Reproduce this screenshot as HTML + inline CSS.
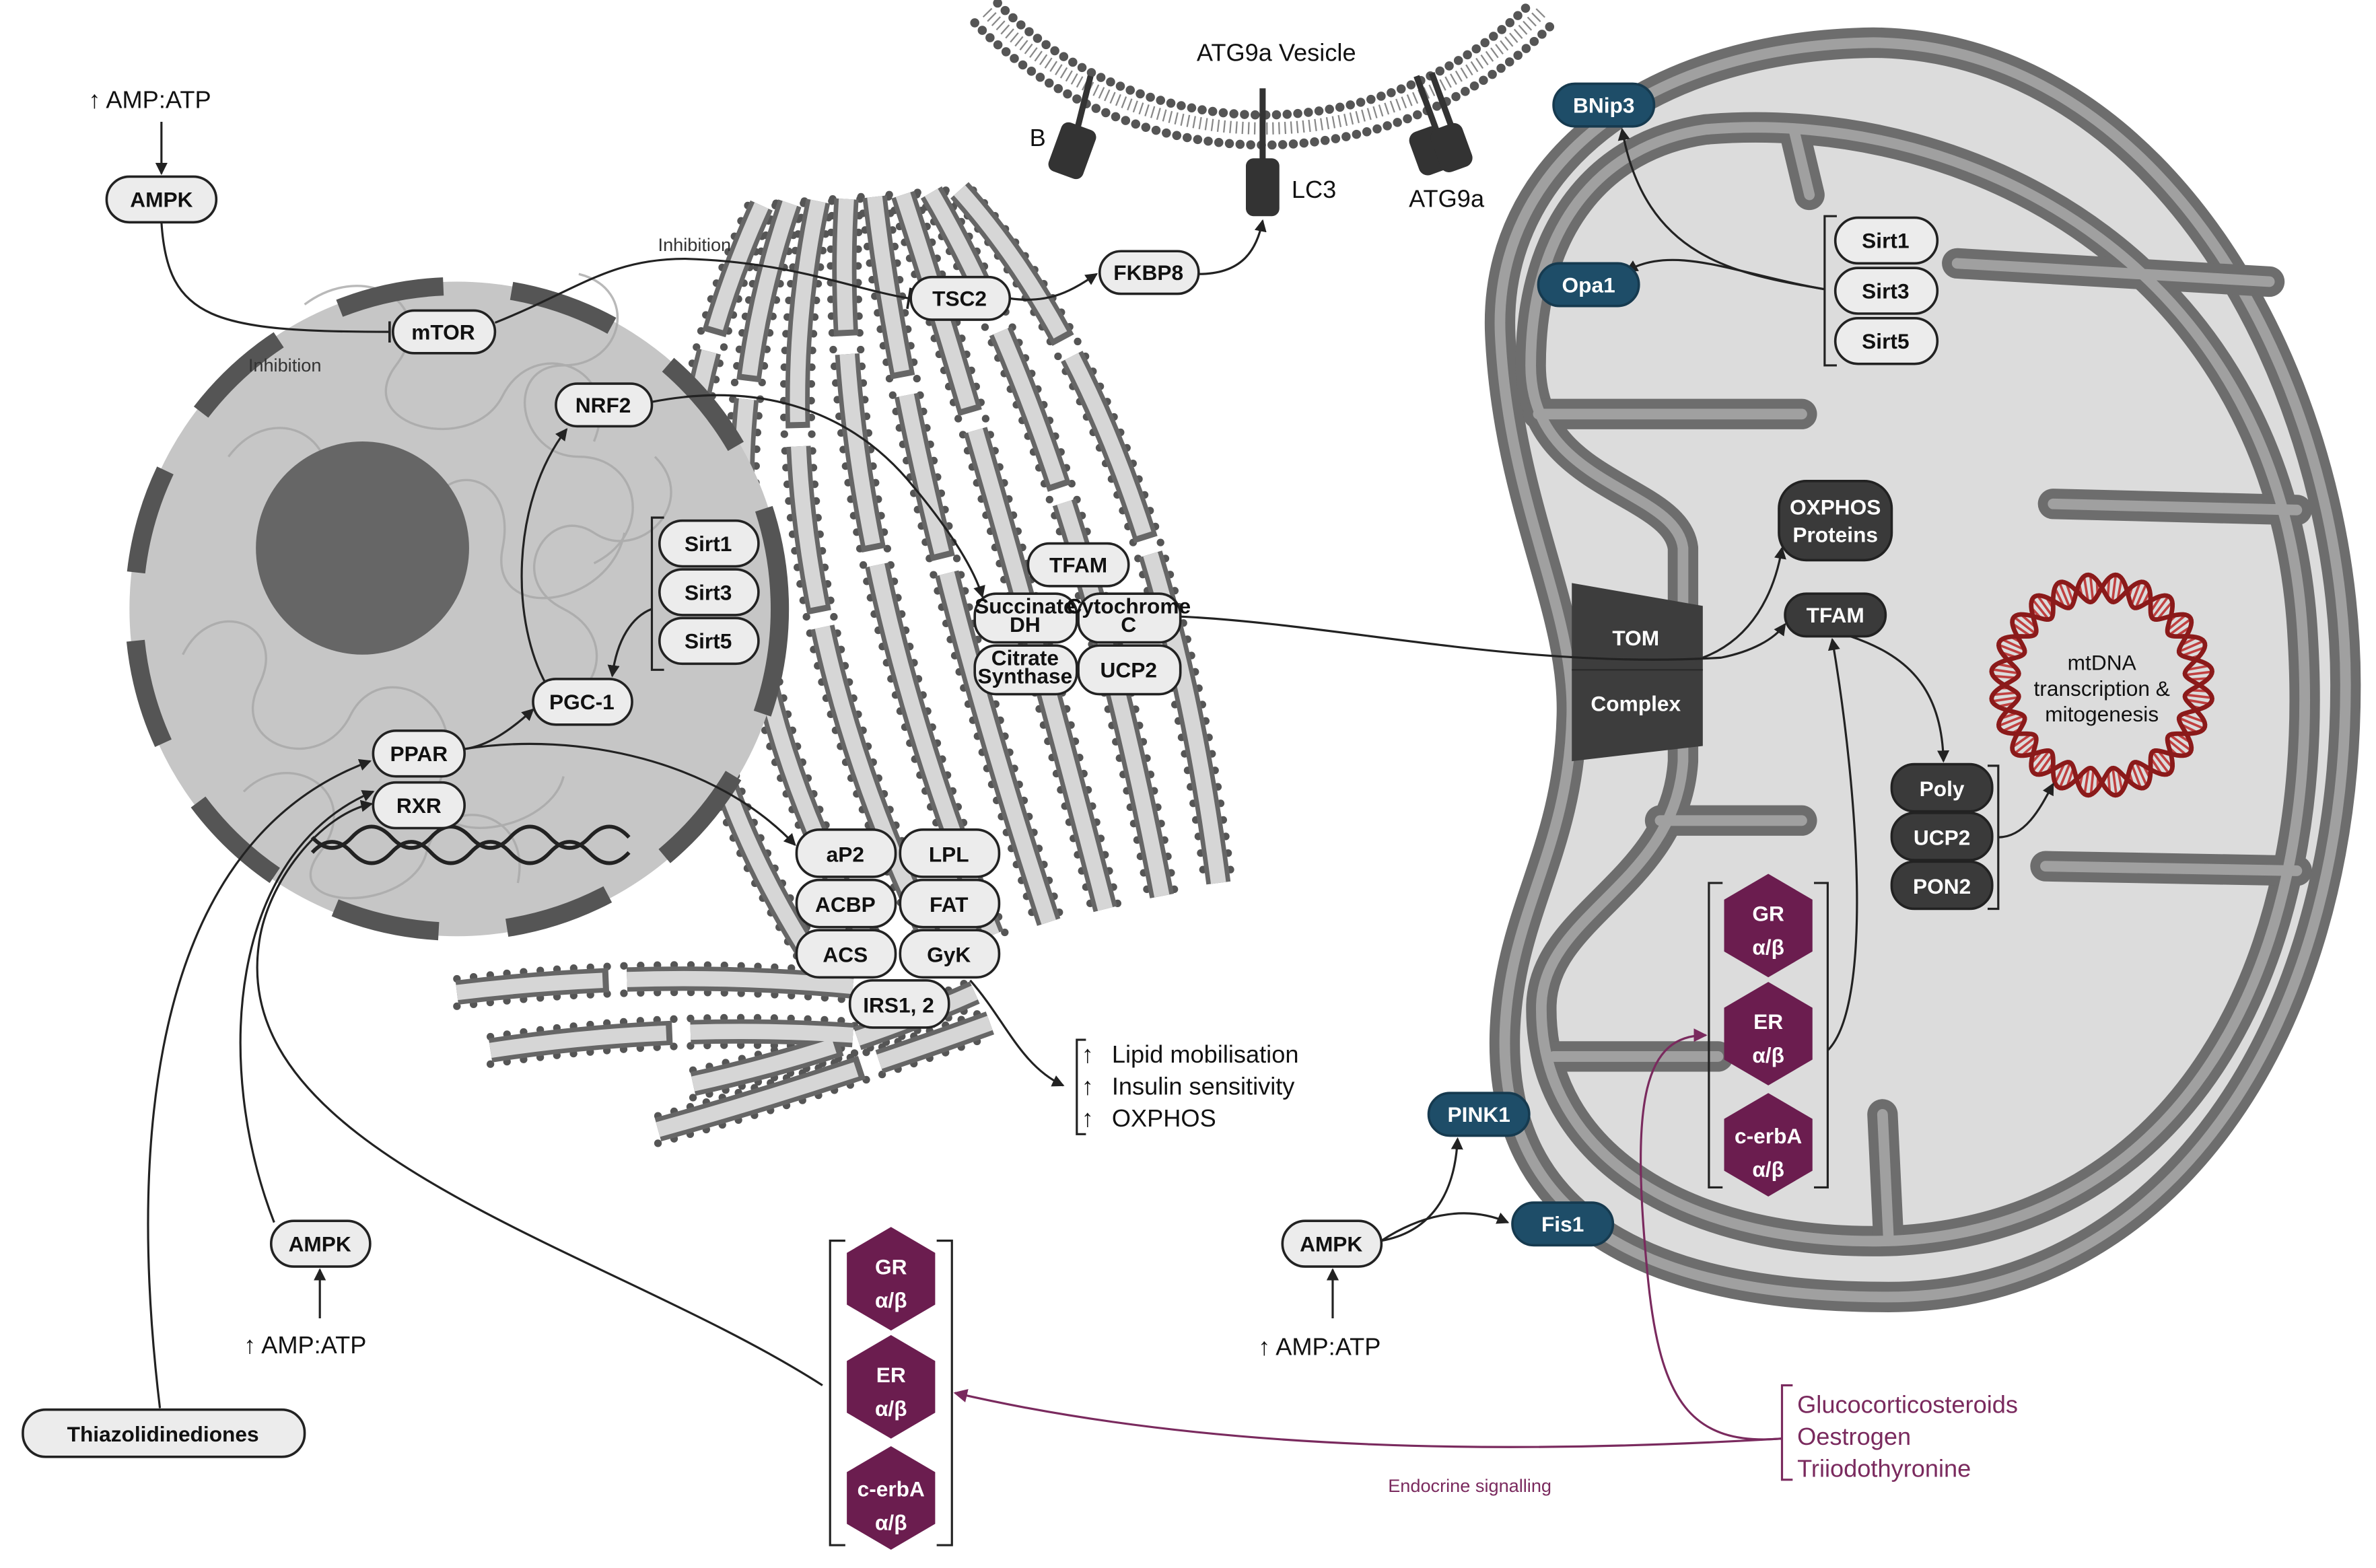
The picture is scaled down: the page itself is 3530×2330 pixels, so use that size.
<!DOCTYPE html>
<html><head><meta charset="utf-8"><style>
html,body{margin:0;padding:0;background:#fff}
svg{display:block}
text{font-family:"Liberation Sans",Arial,sans-serif}
.p{fill:#ececec;stroke:#222;stroke-width:1.6}
.d{fill:#3a3a3a;stroke:#222;stroke-width:1.6}
.b{fill:#1e4d68;stroke:#163a4f;stroke-width:1.6}
.t{font-size:14px;font-weight:bold;fill:#111;text-anchor:middle}
.tw{font-size:14px;font-weight:bold;fill:#fff;text-anchor:middle}
.ln{fill:none;stroke:#222;stroke-width:1.4}
.pl{fill:none;stroke:#7a2a5e;stroke-width:1.4}
.er1{fill:none;stroke:#666;stroke-width:16}
.er2{fill:none;stroke:#d6d6d6;stroke-width:10}
.erd{fill:none;stroke:#555;stroke-width:5;stroke-linecap:round;stroke-dasharray:0 11}
.m1{fill:none;stroke:#6d6d6d;stroke-width:20;stroke-linecap:round;stroke-linejoin:round}
.m2{fill:none;stroke:#a0a0a0;stroke-width:7;stroke-linecap:round;stroke-linejoin:round}
</style></head><body>
<svg width="3530" height="2330" viewBox="0 0 1560 1030" preserveAspectRatio="none" xmlns="http://www.w3.org/2000/svg">
<defs>
<marker id="a" markerWidth="8" markerHeight="8" refX="7" refY="4" orient="auto" markerUnits="userSpaceOnUse"><path d="M0,0 L8,4 L0,8 Z" fill="#222"/></marker>
<marker id="ap" markerWidth="9" markerHeight="9" refX="8" refY="4.5" orient="auto" markerUnits="userSpaceOnUse"><path d="M0,0 L9,4.5 L0,9 Z" fill="#7a2a5e"/></marker>
<marker id="tb" markerWidth="4" markerHeight="14" refX="2" refY="7" orient="auto" markerUnits="userSpaceOnUse"><rect x="1" y="0" width="1.6" height="14" fill="#222"/></marker>
</defs>

<!-- ATG9a vesicle -->
<path d="M640,15 A265,265 0 0 0 1020,15" fill="none" stroke="#555" stroke-width="6" stroke-dasharray="0 7" stroke-linecap="round"/>
<path d="M648,8 A255,255 0 0 0 1012,8" fill="none" stroke="#888" stroke-width="8" stroke-dasharray="1 3"/>
<path d="M655,2 A245,245 0 0 0 1005,2" fill="none" stroke="#555" stroke-width="6" stroke-dasharray="0 7" stroke-linecap="round"/>
<text x="838" y="40" font-size="16" text-anchor="middle" fill="#111">ATG9a Vesicle</text>
<line x1="716" y1="50" x2="706" y2="90" stroke="#333" stroke-width="4"/>
<rect x="692" y="82" width="24" height="34" rx="5" fill="#333" transform="rotate(20 704 99)"/>
<text x="676" y="96" font-size="16" fill="#111">B</text>
<line x1="829" y1="58" x2="829" y2="108" stroke="#333" stroke-width="4"/>
<rect x="818" y="104" width="22" height="38" rx="5" fill="#333"/>
<text x="848" y="130" font-size="16" fill="#111">LC3</text>
<line x1="930" y1="50" x2="944" y2="88" stroke="#333" stroke-width="4"/>
<line x1="940" y1="48" x2="954" y2="86" stroke="#333" stroke-width="4"/>
<rect x="928" y="84" width="22" height="30" rx="6" fill="#333" transform="rotate(-20 939 99)"/>
<rect x="942" y="82" width="22" height="30" rx="6" fill="#333" transform="rotate(-20 953 97)"/>
<text x="925" y="136" font-size="16" fill="#111">ATG9a</text>

<!-- ER -->
<g id="er"></g>

<!-- nucleus -->
<circle cx="300" cy="400" r="215" fill="#c6c6c6"/>
<g fill="none" stroke="#a8a8a8" stroke-width="1.5" opacity="0.8">
<path d="M150,300 c30,-40 80,-10 60,30 c-20,40 60,50 70,10 c10,-40 60,-30 50,20 c-10,50 70,40 80,-10"/>
<path d="M120,430 c20,-40 70,-20 50,20 c-20,40 40,60 60,20 c20,-40 80,-10 60,40 c-20,50 70,40 80,0"/>
<path d="M200,200 c40,-30 90,0 60,40 c-30,40 50,60 70,20 c20,-40 80,-20 60,30"/>
<path d="M160,520 c30,-30 80,0 50,40 c-30,40 60,40 70,0 c10,-40 70,-30 60,20"/>
<path d="M380,180 c40,10 30,60 -10,60 c-40,0 -30,60 10,60 c40,0 50,50 10,70"/>
<path d="M430,300 c30,30 -10,70 -40,50 c-30,-20 -60,30 -20,50 c40,20 20,70 -20,60"/>
</g>
<circle cx="300" cy="400" r="212" fill="none" stroke="#555" stroke-width="12" stroke-dasharray="70 45"/>
<circle cx="238" cy="360" r="70" fill="#666"/>
<!-- DNA -->
<path d="M205,560 q13,-14 26,0 t26,0 t26,0 t26,0 t26,0 t26,0 t26,0 t26,0" fill="none" stroke="#222" stroke-width="2.5"/>
<path d="M205,550 q13,14 26,0 t26,0 t26,0 t26,0 t26,0 t26,0 t26,0 t26,0" fill="none" stroke="#222" stroke-width="2.5"/>

<!-- mitochondrion -->
<path d="M1230,28 C1420,30 1540,250 1540,450 C1540,680 1420,852 1240,852 C1080,852 985,800 988,680 C990,600 1030,560 1032,470 C1034,400 990,330 985,220 C980,110 1080,30 1230,28 Z" fill="#dcdcdc"/>
<path class="m1" d="M1230,28 C1420,30 1540,250 1540,450 C1540,680 1420,852 1240,852 C1080,852 985,800 988,680 C990,600 1030,560 1032,470 C1034,400 990,330 985,220 C980,110 1080,30 1230,28 Z"/>
<path class="m2" d="M1230,28 C1420,30 1540,250 1540,450 C1540,680 1420,852 1240,852 C1080,852 985,800 988,680 C990,600 1030,560 1032,470 C1034,400 990,330 985,220 C980,110 1080,30 1230,28 Z"/>
<g id="inner">
<path class="m1" d="M1120,85 C1300,70 1500,180 1512,420 C1525,640 1430,805 1245,815 C1110,820 1010,760 1012,660 C1014,600 1100,580 1105,500 L1105,360 C1100,320 1005,320 1005,240 C1005,150 1050,95 1120,85 Z"/>
<path class="m1" d="M1490,185 L1285,173"/>
<path class="m1" d="M1508,335 L1348,331"/>
<path class="m1" d="M1508,572 L1343,569"/>
<path class="m1" d="M1240,815 L1236,732"/>
<path class="m1" d="M1020,694 L1128,694"/>
<path class="m1" d="M1090,539 L1183,539"/>
<path class="m1" d="M1010,272 L1183,272"/>
<path class="m1" d="M1178,86 L1188,128"/>
<path class="m2" d="M1120,85 C1300,70 1500,180 1512,420 C1525,640 1430,805 1245,815 C1110,820 1010,760 1012,660 C1014,600 1100,580 1105,500 L1105,360 C1100,320 1005,320 1005,240 C1005,150 1050,95 1120,85 Z"/>
<path class="m2" d="M1490,185 L1285,173"/>
<path class="m2" d="M1508,335 L1348,331"/>
<path class="m2" d="M1508,572 L1343,569"/>
<path class="m2" d="M1240,815 L1236,732"/>
<path class="m2" d="M1020,694 L1128,694"/>
<path class="m2" d="M1090,539 L1183,539"/>
<path class="m2" d="M1010,272 L1183,272"/>
<path class="m2" d="M1178,86 L1188,128"/>
</g>

<!-- TOM complex -->
<path d="M1032,383 L1118,398 L1118,490 L1032,500 Z" fill="#3d3d3d"/>
<line x1="1032" y1="440" x2="1118" y2="440" stroke="#2a2a2a" stroke-width="1"/>
<text x="1074" y="424" class="tw" font-size="17">TOM</text>
<text x="1074" y="467" class="tw" font-size="17">Complex</text>

<!-- mtDNA -->
<g transform="translate(1380 450)">
<g id="dna"></g>
<text y="-10" font-size="14" text-anchor="middle" fill="#111">mtDNA</text>
<text y="7" font-size="14" text-anchor="middle" fill="#111">transcription &amp;</text>
<text y="24" font-size="14" text-anchor="middle" fill="#111">mitogenesis</text>
</g>

<!-- connectors -->
<path class="ln" d="M106,80 L106,114" marker-end="url(#a)"/>
<path class="ln" d="M106,146 C110,210 140,218 256,218" marker-end="url(#tb)"/>
<path class="ln" d="M325,212 C380,190 400,170 450,170 C520,172 560,190 597,196" marker-end="url(#tb)"/>
<path class="ln" d="M663,196 C690,200 705,190 720,180" marker-end="url(#a)"/>
<path class="ln" d="M787,180 C815,180 825,165 829,145" marker-end="url(#a)"/>
<path class="ln" d="M428,264 C500,250 560,270 600,320 C625,350 640,375 645,392" marker-end="url(#a)"/>
<path class="ln" d="M360,452 C335,410 335,330 372,282" marker-end="url(#a)"/>
<path class="ln" d="M428,400 C415,405 405,420 402,444" marker-end="url(#a)"/>
<path class="ln" d="M305,492 C320,490 335,480 350,466" marker-end="url(#a)"/>
<path class="ln" d="M305,492 C380,480 470,500 522,555" marker-end="url(#a)"/>
<path class="ln" d="M775,405 C880,410 1000,440 1130,432 C1150,428 1165,420 1172,410" marker-end="url(#a)"/>
<path class="ln" d="M1118,432 C1150,420 1165,390 1170,360" marker-end="url(#a)"/>
<path class="ln" d="M1215,418 C1250,430 1275,450 1276,500" marker-end="url(#a)"/>
<path class="ln" d="M1312,550 C1330,550 1340,530 1348,515" marker-end="url(#a)"/>
<path class="ln" d="M1200,690 C1230,660 1220,520 1203,420" marker-end="url(#a)"/>
<path class="ln" d="M1198,190 C1140,180 1080,170 1065,85" marker-end="url(#a)"/>
<path class="ln" d="M1198,190 C1140,180 1100,160 1068,178" marker-end="url(#a)"/>
<path class="ln" d="M637,644 C660,670 670,700 698,713" marker-end="url(#a)"/>
<path class="ln" d="M210,866 L210,834" marker-end="url(#a)"/>
<path class="ln" d="M180,803 C140,700 150,560 245,520" marker-end="url(#a)"/>
<path class="ln" d="M105,925 C90,800 80,560 243,500" marker-end="url(#a)"/>
<path class="ln" d="M540,910 C400,820 150,760 170,620 C175,580 210,535 244,528" marker-end="url(#a)"/>
<path class="ln" d="M875,866 L875,834" marker-end="url(#a)"/>
<path class="ln" d="M907,815 C935,810 955,790 957,748" marker-end="url(#a)"/>
<path class="ln" d="M907,815 C930,800 960,790 990,803" marker-end="url(#a)"/>
<path class="pl" d="M1170,945 C1000,955 800,955 627,915" marker-end="url(#ap)"/>
<path class="pl" d="M1170,945 C1110,950 1090,920 1082,840 C1070,720 1080,680 1120,680" marker-end="url(#ap)"/>

<!-- brackets -->
<g fill="none" stroke="#222" stroke-width="1.4">
<path d="M436,340 L428,340 L428,440 L436,440"/>
<path d="M1206,142 L1198,142 L1198,240 L1206,240"/>
<path d="M1305,503 L1312,503 L1312,597 L1305,597"/>
<path d="M713,683 L707,683 L707,745 L713,745"/>
<path d="M1177,910 L1170,910 L1170,972 L1177,972" stroke="#7a2a5e"/>
<path d="M555,815 L545,815 L545,1015 L555,1015"/>
<path d="M615,815 L625,815 L625,1015 L615,1015"/>
<path d="M1131,580 L1122,580 L1122,780 L1131,780"/>
<path d="M1191,580 L1200,580 L1200,780 L1191,780"/>
</g>

<!-- light pills -->
<g>
<rect class="p" x="70" y="116" width="72" height="30" rx="15"/><text class="t" x="106" y="136">AMPK</text>
<rect class="p" x="258" y="204" width="67" height="28" rx="14"/><text class="t" x="291" y="223">mTOR</text>
<rect class="p" x="598" y="182" width="65" height="28" rx="14"/><text class="t" x="630" y="201">TSC2</text>
<rect class="p" x="722" y="165" width="65" height="28" rx="14"/><text class="t" x="754" y="184">FKBP8</text>
<rect class="p" x="365" y="252" width="63" height="28" rx="14"/><text class="t" x="396" y="271">NRF2</text>
<rect class="p" x="433" y="342" width="65" height="30" rx="15"/><text class="t" x="465" y="362">Sirt1</text>
<rect class="p" x="433" y="374" width="65" height="30" rx="15"/><text class="t" x="465" y="394">Sirt3</text>
<rect class="p" x="433" y="406" width="65" height="30" rx="15"/><text class="t" x="465" y="426">Sirt5</text>
<rect class="p" x="350" y="446" width="65" height="30" rx="15"/><text class="t" x="382" y="466">PGC-1</text>
<rect class="p" x="245" y="480" width="60" height="30" rx="15"/><text class="t" x="275" y="500">PPAR</text>
<rect class="p" x="245" y="514" width="60" height="30" rx="15"/><text class="t" x="275" y="534">RXR</text>
<rect class="p" x="675" y="357" width="66" height="28" rx="14"/><text class="t" x="708" y="376">TFAM</text>
<rect class="p" x="640" y="390" width="67" height="32" rx="14"/><text class="t" x="673" y="403" font-size="9.5">Succinate</text><text class="t" x="673" y="415" font-size="9.5">DH</text>
<rect class="p" x="708" y="390" width="67" height="32" rx="14"/><text class="t" x="741" y="403" font-size="9.5">Cytochrome</text><text class="t" x="741" y="415" font-size="9.5">C</text>
<rect class="p" x="640" y="424" width="67" height="32" rx="14"/><text class="t" x="673" y="437" font-size="9.5">Citrate</text><text class="t" x="673" y="449" font-size="9.5">Synthase</text>
<rect class="p" x="708" y="424" width="67" height="32" rx="14"/><text class="t" x="741" y="445">UCP2</text>
<rect class="p" x="523" y="545" width="65" height="31" rx="15"/><text class="t" x="555" y="566">aP2</text>
<rect class="p" x="591" y="545" width="65" height="31" rx="15"/><text class="t" x="623" y="566">LPL</text>
<rect class="p" x="523" y="578" width="65" height="31" rx="15"/><text class="t" x="555" y="599">ACBP</text>
<rect class="p" x="591" y="578" width="65" height="31" rx="15"/><text class="t" x="623" y="599">FAT</text>
<rect class="p" x="523" y="611" width="65" height="31" rx="15"/><text class="t" x="555" y="632">ACS</text>
<rect class="p" x="591" y="611" width="65" height="31" rx="15"/><text class="t" x="623" y="632">GyK</text>
<rect class="p" x="558" y="644" width="65" height="31" rx="15"/><text class="t" x="590" y="665">IRS1, 2</text>
<rect class="p" x="178" y="802" width="65" height="30" rx="15"/><text class="t" x="210" y="822">AMPK</text>
<rect class="p" x="842" y="802" width="65" height="30" rx="15"/><text class="t" x="874" y="822">AMPK</text>
<rect class="p" x="15" y="926" width="185" height="31" rx="15"/><text class="t" x="107" y="947" font-size="15">Thiazolidinediones</text>
<rect class="p" x="1205" y="143" width="67" height="30" rx="15"/><text class="t" x="1238" y="163">Sirt1</text>
<rect class="p" x="1205" y="176" width="67" height="30" rx="15"/><text class="t" x="1238" y="196">Sirt3</text>
<rect class="p" x="1205" y="209" width="67" height="30" rx="15"/><text class="t" x="1238" y="229">Sirt5</text>
</g>
<!-- dark pills -->
<rect class="d" x="1168" y="316" width="74" height="52" rx="18"/><text class="tw" x="1205" y="338">OXPHOS</text><text class="tw" x="1205" y="356">Proteins</text>
<rect class="d" x="1172" y="390" width="66" height="28" rx="14"/><text class="tw" x="1205" y="409">TFAM</text>
<rect class="d" x="1242" y="502" width="66" height="31" rx="15"/><text class="tw" x="1275" y="523">Poly</text>
<rect class="d" x="1242" y="534" width="66" height="31" rx="15"/><text class="tw" x="1275" y="555">UCP2</text>
<rect class="d" x="1242" y="566" width="66" height="31" rx="15"/><text class="tw" x="1275" y="587">PON2</text>
<rect class="b" x="1020" y="55" width="66" height="28" rx="14"/><text class="tw" x="1053" y="74">BNip3</text>
<rect class="b" x="1010" y="173" width="66" height="28" rx="14"/><text class="tw" x="1043" y="192">Opa1</text>
<rect class="b" x="938" y="718" width="66" height="28" rx="14"/><text class="tw" x="971" y="737">PINK1</text>
<rect class="b" x="993" y="790" width="66" height="28" rx="14"/><text class="tw" x="1026" y="809">Fis1</text>

<!-- hexagons -->
<g fill="#6b1d4f">
<polygon points="585,806 614,823 614,857 585,874 556,857 556,823"/>
<polygon points="585,877 614,894 614,928 585,945 556,928 556,894"/>
<polygon points="585,950 614,967 614,1001 585,1018 556,1001 556,967"/>
<polygon points="1161,574 1190,591 1190,625 1161,642 1132,625 1132,591"/>
<polygon points="1161,645 1190,662 1190,696 1161,713 1132,696 1132,662"/>
<polygon points="1161,718 1190,735 1190,769 1161,786 1132,769 1132,735"/>
</g>
<text class="tw" x="585" y="837" font-size="16">GR</text><text class="tw" x="585" y="859" font-size="16">α/β</text>
<text class="tw" x="585" y="908" font-size="16">ER</text><text class="tw" x="585" y="930" font-size="16">α/β</text>
<text class="tw" x="585" y="983" font-size="16">c-erbA</text><text class="tw" x="585" y="1005" font-size="16">α/β</text>
<text class="tw" x="1161" y="605" font-size="16">GR</text><text class="tw" x="1161" y="627" font-size="16">α/β</text>
<text class="tw" x="1161" y="676" font-size="16">ER</text><text class="tw" x="1161" y="698" font-size="16">α/β</text>
<text class="tw" x="1161" y="751" font-size="16">c-erbA</text><text class="tw" x="1161" y="773" font-size="16">α/β</text>

<!-- plain texts -->
<text x="58" y="71" font-size="16" fill="#111">↑ AMP:ATP</text>
<text x="160" y="889" font-size="16" fill="#111">↑ AMP:ATP</text>
<text x="826" y="890" font-size="16" fill="#111">↑ AMP:ATP</text>
<text x="163" y="244" font-size="12" fill="#333">Inhibition</text>
<text x="432" y="165" font-size="12" fill="#333">Inhibition</text>
<text x="730" y="698" font-size="16" fill="#111">Lipid mobilisation</text>
<text x="730" y="719" font-size="16" fill="#111">Insulin sensitivity</text>
<text x="730" y="740" font-size="16" fill="#111">OXPHOS</text>
<text x="710" y="698" font-size="16" fill="#111">↑</text>
<text x="710" y="719" font-size="16" fill="#111">↑</text>
<text x="710" y="740" font-size="16" fill="#111">↑</text>
<text x="1180" y="928" font-size="16" fill="#7a2a5e">Glucocorticosteroids</text>
<text x="1180" y="949" font-size="16" fill="#7a2a5e">Oestrogen</text>
<text x="1180" y="970" font-size="16" fill="#7a2a5e">Triiodothyronine</text>
<text x="965" y="980" font-size="12" fill="#7a2a5e" text-anchor="middle">Endocrine signalling</text>
</svg>
<script>
(function(){
var NS="http://www.w3.org/2000/svg";
function el(parent,tag,attrs){var e=document.createElementNS(NS,tag);for(var k in attrs)e.setAttribute(k,attrs[k]);parent.appendChild(e);return e;}
var er=document.getElementById("er");
var strands=[];
for(var i=0;i<8;i++){var t=i/7;
 var s=[500+130*t,135-10*t],c=[380+380*t,400-130*t],e=[540+260*t,640-60*t];
 strands.push({d:"M"+s+" Q"+c+" "+e,ox:9,oy:0,dash:(90+30*(i%3))+" 12 "+(110+20*(i%2))+" 10 300"});}
var hb=[["M300,652 Q430,636 560,648",0],["M322,690 Q440,672 560,680",1],["M432,742 Q540,712 650,672",2],["M455,712 Q555,690 640,652",0]];
hb.forEach(function(h){strands.push({d:h[0],ox:0,oy:9,dash:(100+20*h[1])+" 12 300"});});
strands.forEach(function(s){
 el(er,"path",{d:s.d,"class":"erd",transform:"translate("+(-s.ox)+","+(-s.oy)+")"});
 el(er,"path",{d:s.d,"class":"erd",transform:"translate("+s.ox+","+s.oy+")"});
});
strands.forEach(function(s){el(er,"path",{d:s.d,"class":"er1","stroke-dasharray":s.dash});});
strands.forEach(function(s){el(er,"path",{d:s.d,"class":"er2","stroke-dasharray":s.dash.replace(/(\d+) (\d+)/g,function(m,a,b){return (a-4)+" "+(+b+4);})});});
var dna=document.getElementById("dna");
var n=12,R=64,A=9,p1="",p2="";
for(var k=0;k<=360;k++){var th=k*Math.PI/180;var r1=R+A*Math.sin(n*th),r2=R-A*Math.sin(n*th);
 p1+=(k?"L":"M")+(r1*Math.cos(th)).toFixed(2)+","+(r1*Math.sin(th)).toFixed(2);
 p2+=(k?"L":"M")+(r2*Math.cos(th)).toFixed(2)+","+(r2*Math.sin(th)).toFixed(2);}
for(var k=0;k<360;k+=3.3){var th=k*Math.PI/180;var a=Math.abs(A*Math.sin(n*th));if(a<3)continue;
 el(dna,"line",{x1:((R-a)*Math.cos(th)).toFixed(2),y1:((R-a)*Math.sin(th)).toFixed(2),x2:((R+a)*Math.cos(th)).toFixed(2),y2:((R+a)*Math.sin(th)).toFixed(2),stroke:"#c04040","stroke-width":1.6});}
el(dna,"path",{d:p1,fill:"none",stroke:"#8b1a1a","stroke-width":3});
el(dna,"path",{d:p2,fill:"none",stroke:"#8b1a1a","stroke-width":3});
})();
</script>
</body></html>
